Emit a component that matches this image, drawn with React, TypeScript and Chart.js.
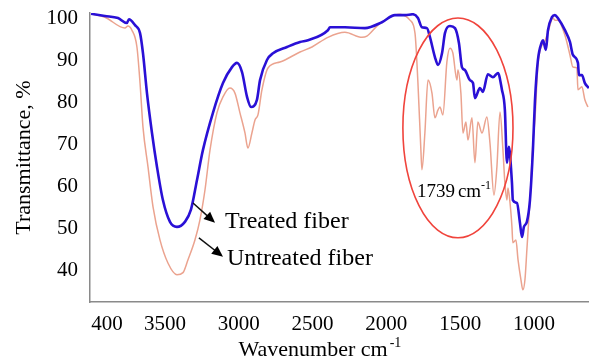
import React, { useEffect, useRef } from "react";
import { Chart, registerables } from "chart.js";

Chart.register(...registerables);

// ---- data (wavenumber in cm-1, transmittance in %) ----
const treatedWavenumber = [
  4001, 3907, 3818, 3758, 3744, 3703, 3669, 3649, 3622, 3588, 3554, 3514, 3466, 3419, 3365, 3324,
  3283, 3243, 3175, 3107, 3046, 3012, 2978, 2944, 2917, 2877, 2856, 2809, 2768, 2673, 2585, 2531,
  2396, 2382, 2281, 2145, 2030, 1942, 1874, 1820, 1786, 1759, 1725, 1705, 1671, 1650, 1623, 1603,
  1569, 1535, 1508, 1488, 1468, 1434, 1413, 1400, 1366, 1346, 1312, 1278, 1244, 1217, 1197, 1183,
  1170, 1149, 1143, 1115, 1095, 1081, 1068, 1048, 1027, 1007, 993, 973, 946, 939, 919, 905, 878,
  858, 838, 790, 756, 736, 702, 695, 675, 655, 628,
];
const treatedTransmittance = [
  101.1, 100.6, 100.1, 98.9, 99.8, 98.4, 96.5, 91.7, 82.2, 72.7, 64.6, 56.7, 51.5, 50.3, 51.5, 54.4,
  61.5, 68.6, 77.5, 84.6, 88.4, 89.4, 87.2, 81.3, 78.9, 80.6, 85.3, 90.1, 91.7, 93.2, 94.4, 94.8,
  97.2, 97.9, 97.9, 97.7, 99.1, 100.8, 100.8, 101.0, 100.1, 97.9, 97.7, 95.6, 90.8, 88.9, 91.7, 96.5,
  98.2, 97.7, 94.1, 88.4, 87.7, 85.3, 84.6, 81.0, 83.4, 82.5, 86.7, 86.0, 87.0, 83.0, 78.2, 65.6,
  69.4, 60.8, 56.7, 56.0, 51.3, 47.9, 50.3, 51.5, 56.7, 68.7, 80.5, 90.1, 94.4, 94.8, 92.5, 97.2, 100.3,
  100.8, 100.1, 97.2, 94.4, 91.3, 89.4, 86.5, 86.5, 84.6, 83.4,
];
const untreatedWavenumber = [
  4001, 3907, 3771, 3751, 3724, 3690, 3669, 3649, 3615, 3581, 3534, 3480, 3419, 3378, 3344, 3297,
  3263, 3229, 3195, 3148, 3107, 3060, 3026, 2992, 2958, 2938, 2911, 2890, 2870, 2843, 2802, 2721,
  2585, 2504, 2396, 2281, 2165, 2132, 2057, 1942, 1908, 1840, 1806, 1786, 1766, 1759, 1739, 1718,
  1691, 1671, 1650, 1637, 1617, 1590, 1569, 1549, 1522, 1515, 1495, 1481, 1461, 1447, 1420, 1400,
  1380, 1352, 1319, 1298, 1271, 1251, 1230, 1210, 1197, 1183, 1176, 1162, 1149, 1143, 1122, 1108,
  1088, 1075, 1061, 1048, 1027, 1007, 993, 973, 946, 932, 905, 871, 858, 838, 790, 756, 736, 709,
  702, 675, 655, 634,
];
const untreatedTransmittance = [
  101.1, 100.3, 97.7, 98.2, 97.2, 93.2, 84.6, 74.1, 64.6, 55.1, 47.2, 41.7, 38.9, 39.4, 42.5, 47.2,
  52.0, 59.1, 68.6, 77.5, 81.3, 83.4, 82.2, 77.5, 72.7, 69.1, 72.7, 75.8, 77.0, 83.0, 88.2, 89.6,
  92.0, 93.2, 95.5, 96.7, 95.5, 95.8, 98.4, 100.8, 101.0, 99.6, 96.5, 84.6, 68.6, 63.9, 72.7, 85.3,
  82.2, 76.3, 78.2, 78.9, 77.0, 89.6, 92.9, 91.7, 85.3, 87.7, 82.2, 72.7, 75.3, 71.0, 76.3, 65.6,
  75.3, 72.7, 76.5, 70.3, 57.9, 64.6, 77.7, 68.6, 60.8, 56.7, 59.6, 56.0, 50.3, 46.5, 47.2, 42.5,
  37.7, 35.3, 37.7, 44.8, 56.7, 70.3, 76.0, 88.9, 93.6, 94.1, 96.7, 100.1, 99.6, 99.6, 96.0, 91.3, 88.4, 88.2,
  83.0, 83.7, 80.6, 78.9,
];

const seriesNames = ["Treated fiber", "Untreated fiber"];
const xTickValues = [3893, 3500, 3000, 2500, 2000, 1500, 1000];
const xTickLabels = ["400", "3500", "3000", "2500", "2000", "1500", "1000"];
const yTickValues = [40, 50, 60, 70, 80, 90, 100];
const xTitle = "Wavenumber cm";
const yTitle = "Transmittance, %";
const peakNumber = "1739";

const FONT = "'Liberation Serif', 'Times New Roman', serif";
const BLUE = "#2a10d6";
const SALMON = "#eba38f";

const toPoints = (xs: number[], ys: number[]) => xs.map((x, i) => ({ x, y: ys[i] }));

const annotationPlugin = {
  id: "ftirAnnotations",
  afterDraw(chart: any) {
    const { ctx, scales } = chart;
    const x = scales.x;
    const y = scales.y;
    const px = (v: number) => x.getPixelForValue(v);
    const py = (v: number) => y.getPixelForValue(v);
    ctx.save();

    // red ellipse around fingerprint region
    const cx = px(1515);
    const cy = py(73.9);
    const rx = Math.abs(px(1515 - 373) - cx);
    const ry = Math.abs(py(73.9 - 26.2) - cy);
    ctx.beginPath();
    ctx.ellipse(cx, cy, rx, ry, 0, 0, Math.PI * 2);
    ctx.strokeStyle = "#f0443c";
    ctx.lineWidth = 1.6;
    ctx.stroke();

    // arrows
    const arrow = (x0: number, y0: number, x1: number, y1: number) => {
      const ax = px(x0), ay = py(y0), bx = px(x1), by = py(y1);
      const ang = Math.atan2(by - ay, bx - ax);
      const len = 11, half = 5;
      ctx.beginPath();
      ctx.moveTo(ax, ay);
      ctx.lineTo(bx - Math.cos(ang) * len * 0.8, by - Math.sin(ang) * len * 0.8);
      ctx.strokeStyle = "#111";
      ctx.lineWidth = 1.5;
      ctx.stroke();
      ctx.beginPath();
      ctx.moveTo(bx, by);
      ctx.lineTo(bx - Math.cos(ang) * len - Math.sin(ang) * half, by - Math.sin(ang) * len + Math.cos(ang) * half);
      ctx.lineTo(bx - Math.cos(ang) * len + Math.sin(ang) * half, by - Math.sin(ang) * len - Math.cos(ang) * half);
      ctx.closePath();
      ctx.fillStyle = "#000";
      ctx.fill();
    };
    arrow(3310, 56.0, 3161, 51.3);
    arrow(3270, 47.7, 3107, 43.2);

    ctx.fillStyle = "#000";
    ctx.textBaseline = "middle";
    ctx.textAlign = "left";
    ctx.font = `24px ${FONT}`;
    ctx.fillText(seriesNames[0], px(3094), py(51.5));
    ctx.fillText(seriesNames[1], px(3080), py(42.7));

    // peak label 1739 cm-1
    const lx = px(1793);
    const ly = py(58.6);
    ctx.font = `19px ${FONT}`;
    ctx.fillText(peakNumber, lx, ly);
    let w = ctx.measureText(peakNumber).width + 3;
    ctx.fillText("cm", lx + w, ly);
    w += ctx.measureText("cm").width;
    ctx.font = `12px ${FONT}`;
    ctx.fillText("-1", lx + w, ly - 6);

    // y axis title
    ctx.save();
    ctx.font = `22px ${FONT}`;
    ctx.translate(24, (chart.chartArea.top + chart.chartArea.bottom) / 2);
    ctx.rotate(-Math.PI / 2);
    ctx.textAlign = "center";
    ctx.textBaseline = "middle";
    ctx.fillText(yTitle, 0, 0);
    ctx.restore();

    // x axis title
    ctx.font = `22px ${FONT}`;
    const w1 = ctx.measureText(xTitle).width;
    ctx.font = `14px ${FONT}`;
    const w2 = ctx.measureText("-1").width;
    const tx = px(2450) - (w1 + w2 + 2) / 2;
    const ty = chart.height - 6;
    ctx.textBaseline = "alphabetic";
    ctx.font = `22px ${FONT}`;
    ctx.fillText(xTitle, tx, ty);
    ctx.font = `14px ${FONT}`;
    ctx.fillText("-1", tx + w1 + 2, ty - 9);

    ctx.restore();
  },
};

export default function App() {
  const ref = useRef<HTMLCanvasElement | null>(null);

  useEffect(() => {
    if (!ref.current) return;
    const chart = new Chart(ref.current, {
      type: "line",
      data: {
        datasets: [
          {
            label: seriesNames[0],
            data: toPoints(treatedWavenumber, treatedTransmittance),
            borderColor: BLUE,
            borderWidth: 2.6,
            pointRadius: 0,
            cubicInterpolationMode: "monotone",
            fill: false,
          },
          {
            label: seriesNames[1],
            data: toPoints(untreatedWavenumber, untreatedTransmittance),
            borderColor: SALMON,
            borderWidth: 1.5,
            pointRadius: 0,
            cubicInterpolationMode: "monotone",
            fill: false,
          },
        ],
      },
      options: {
        animation: false,
        responsive: false,
        devicePixelRatio: 1,
        layout: { padding: { top: 13, right: 0, left: 0, bottom: 0 } },
        plugins: { legend: { display: false }, tooltip: { enabled: false } },
        scales: {
          x: {
            type: "linear",
            reverse: true,
            min: 627,
            max: 4008,
            afterBuildTicks: (s: any) => {
              s.ticks = xTickValues.map((v) => ({ value: v }));
            },
            afterFit: (s: any) => {
              s.height = 60;
              s.paddingLeft = 0;
              s.paddingRight = 0;
            },
            ticks: {
              autoSkip: false,
              maxRotation: 0,
              padding: 10,
              color: "#000",
              font: { family: FONT, size: 21 },
              callback: (_v: any, i: number) => xTickLabels[i],
            },
            grid: { display: true, drawOnChartArea: false, drawTicks: false },
            border: { display: true, color: "#8a8a8a", width: 1.5 },
            title: { display: false },
          },
          y: {
            type: "linear",
            min: 32.4,
            max: 101.3,
            afterBuildTicks: (s: any) => {
              s.ticks = yTickValues.map((v) => ({ value: v }));
            },
            afterFit: (s: any) => {
              s.width = 90;
              s.paddingTop = 0;
              s.paddingBottom = 0;
            },
            ticks: {
              padding: 12,
              color: "#000",
              font: { family: FONT, size: 21 },
            },
            grid: { display: true, drawOnChartArea: false, drawTicks: false },
            border: { display: true, color: "#8a8a8a", width: 1.5 },
            title: { display: false },
          },
        },
      },
      plugins: [annotationPlugin],
    } as any);
    return () => chart.destroy();
  }, []);

  return (
    <div style={{ position: "absolute", left: 0, top: 0, width: 589, height: 362, background: "#fff" }}>
      <canvas ref={ref} width={589} height={362} style={{ width: 589, height: 362, display: "block" }} />
    </div>
  );
}
